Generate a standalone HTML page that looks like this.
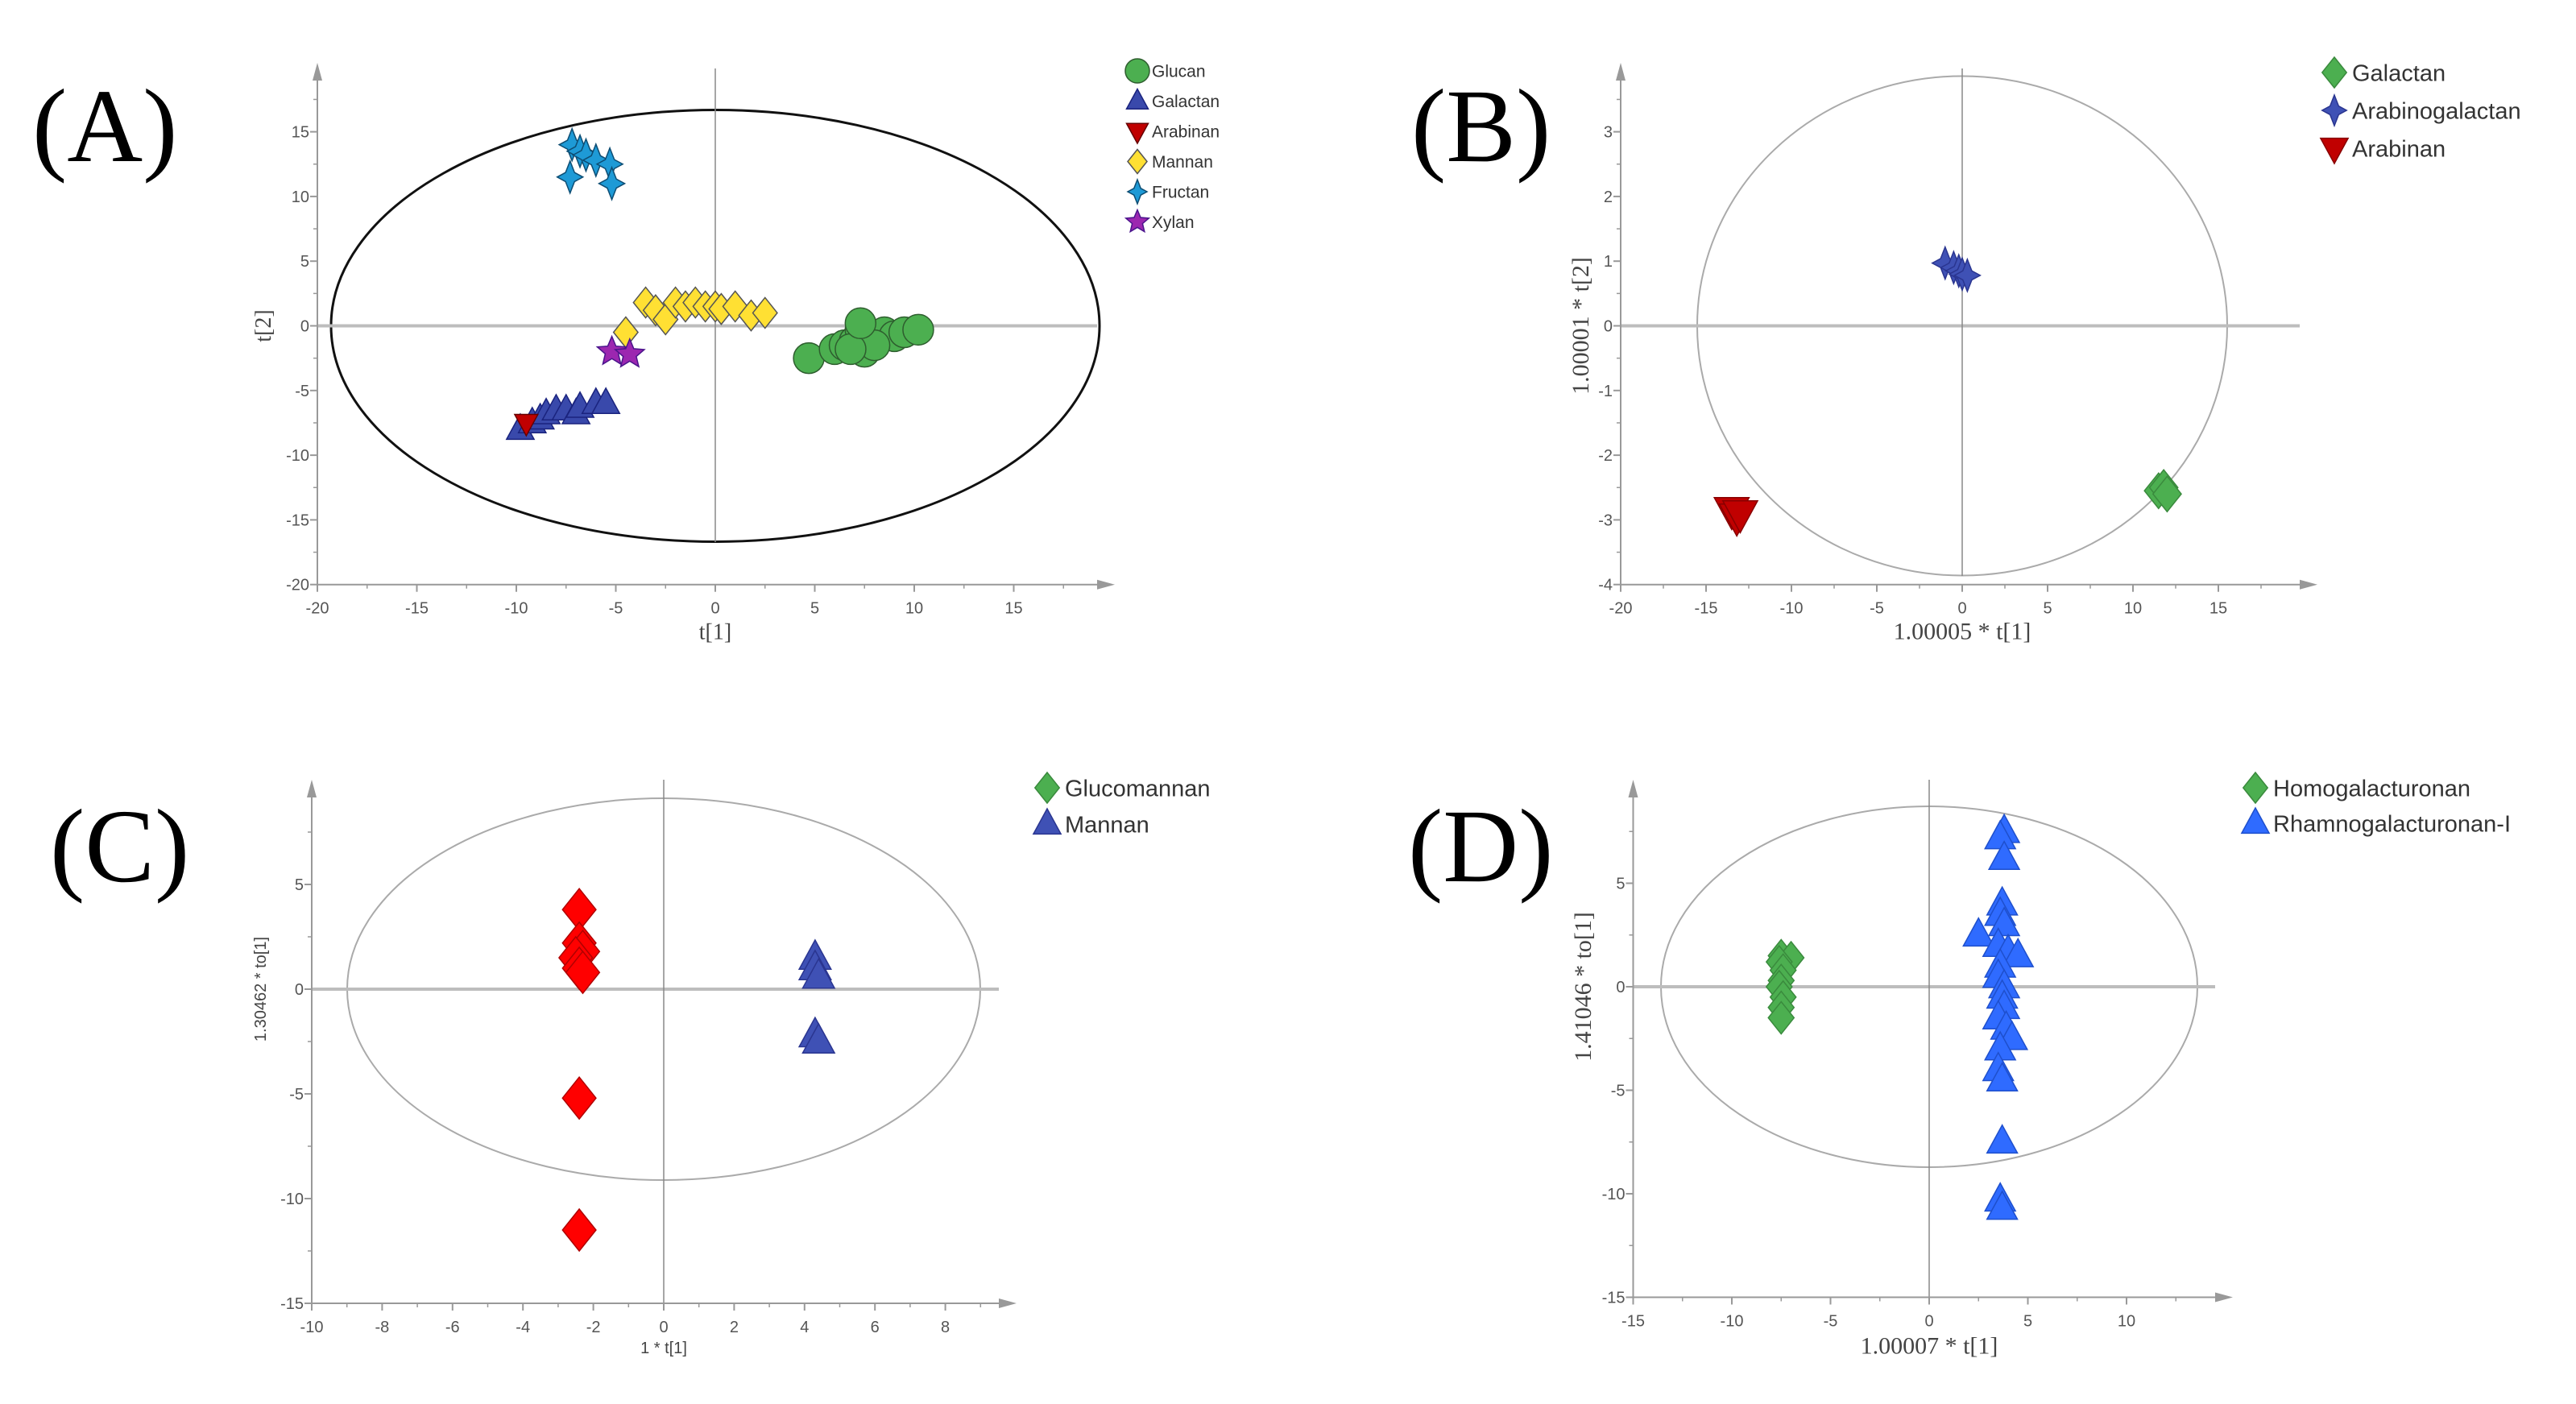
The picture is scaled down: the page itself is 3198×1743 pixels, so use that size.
<!DOCTYPE html>
<html><head><meta charset="utf-8">
<style>
html,body{margin:0;padding:0;background:#fff;}
svg{display:block;font-family:"Liberation Sans",sans-serif;}
</style></head>
<body>
<svg id="fig" width="3198" height="1743" viewBox="0 0 3198 1743" xmlns="http://www.w3.org/2000/svg"></svg>
<script>
// ===== Panel A data =====
const aGlucanX = [4.7,6,6.5,7,7.3,7.5,8,8.5,9,9.5,10.2,8,6.8,7.3];
const aGlucanY = [-2.5,-1.8,-1.5,-1.2,-0.3,-2,-0.8,-0.5,-0.8,-0.5,-0.3,-1.5,-1.8,0.2];
const aGalactanX = [-9.8,-9.2,-8.8,-8.5,-8,-7.5,-7,-6.8,-6,-5.5];
const aGalactanY = [-8,-7.5,-7.2,-6.8,-6.5,-6.5,-6.8,-6.3,-6,-6];
const aArabinanX = [-9.5];
const aArabinanY = [-7.5];
const aMannanX = [-4.5,-3.5,-3,-2.5,-2,-1.5,-1,-0.5,0,0.3,1,1.8,2.5];
const aMannanY = [-0.5,1.8,1.2,0.5,1.8,1.5,1.8,1.5,1.5,1.3,1.5,0.8,1];
const aFructanX = [-7.2,-6.8,-6.5,-6,-5.3,-7.3,-5.2];
const aFructanY = [14,13.5,13.2,12.8,12.5,11.5,11];
const aXylanX = [-5.2,-4.3];
const aXylanY = [-2,-2.2];
const aXTicks = [-20,-15,-10,-5,0,5,10,15];
const aYTicks = [-20,-15,-10,-5,0,5,10,15];
// ===== Panel B data =====
const bArabinogalactanX = [-1,-0.5,-0.2,0,0.3];
const bArabinogalactanY = [0.97,0.9,0.85,0.8,0.78];
const bGalactanX = [11.5,11.8,12];
const bGalactanY = [-2.55,-2.5,-2.6];
const bArabinanX = [-13.5,-13.2,-13];
const bArabinanY = [-2.85,-2.95,-2.9];
const bXTicks = [-20,-15,-10,-5,0,5,10,15];
const bYTicks = [-4,-3,-2,-1,0,1,2,3];
// ===== Panel C data =====
const cGlucomannanX = [-2.4,-2.4,-2.3,-2.5,-2.4,-2.3,-2.4,-2.4];
const cGlucomannanY = [3.8,2.2,1.8,1.5,1,0.8,-5.2,-11.5];
const cMannanX = [4.3,4.3,4.4,4.3,4.4];
const cMannanY = [1.5,1,0.6,-2.2,-2.5];
const cXTicks = [-10,-8,-6,-4,-2,0,2,4,6,8];
const cYTicks = [-15,-10,-5,0,5];
// ===== Panel D data =====
const dHGX = [-7.5,-7,-7.6,-7.4,-7.5,-7.6,-7.4,-7.5,-7.5];
const dHGY = [1.5,1.4,1.2,0.8,0.3,0,-0.5,-1,-1.5];
const dRGX = [3.8,3.6,3.8,3.7,3.6,3.8,2.5,3.5,4,4.5,3.6,3.5,3.8,3.7,3.8,3.5,3.9,4.2,3.6,3.5,3.7,3.7,3.6,3.7];
const dRGY = [7.5,7.2,6.2,4,3.5,3,2.5,2,1.7,1.5,1,0.5,0,-0.5,-1,-1.5,-2,-2.5,-3,-4,-4.5,-7.5,-10.3,-10.7];
const dXTicks = [-15,-10,-5,0,5,10];
const dYTicks = [-15,-10,-5,0,5];

const NS = "http://www.w3.org/2000/svg";
const svg = document.getElementById('fig');
function mk(tag, attrs, parent){
  const e = document.createElementNS(NS, tag);
  for (const k in attrs) e.setAttribute(k, attrs[k]);
  (parent||svg).appendChild(e);
  return e;
}
function markerShape(g, type, cx, cy, s, fill, stroke){
  let e;
  if (type==='circle') e = mk('circle',{cx:cx,cy:cy,r:s,fill:fill,stroke:stroke,'stroke-width':1.5},g);
  else if (type==='tri') e = mk('polygon',{points:`${cx},${cy-s} ${cx+s*0.9},${cy+s*0.65} ${cx-s*0.9},${cy+s*0.65}`,fill:fill,stroke:stroke,'stroke-width':1.5},g);
  else if (type==='tridown') e = mk('polygon',{points:`${cx},${cy+s} ${cx+s*0.9},${cy-s*0.65} ${cx-s*0.9},${cy-s*0.65}`,fill:fill,stroke:stroke,'stroke-width':1.5},g);
  else if (type==='diamond') e = mk('polygon',{points:`${cx},${cy-s} ${cx+s*0.8},${cy} ${cx},${cy+s} ${cx-s*0.8},${cy}`,fill:fill,stroke:stroke,'stroke-width':1.5},g);
  else if (type==='star4'){
    const w=s*0.28;
    e = mk('polygon',{points:`${cx},${cy-s} ${cx+w},${cy-w} ${cx+s*0.8},${cy} ${cx+w},${cy+w} ${cx},${cy+s} ${cx-w},${cy+w} ${cx-s*0.8},${cy} ${cx-w},${cy-w}`,fill:fill,stroke:stroke,'stroke-width':1.5},g);
  } else if (type==='star5'){
    let p=[];
    for(let i=0;i<10;i++){const r=i%2?s*0.45:s; const a=-Math.PI/2+i*Math.PI/5; p.push((cx+r*Math.cos(a)).toFixed(1)+','+(cy+r*Math.sin(a)).toFixed(1));}
    e = mk('polygon',{points:p.join(' '),fill:fill,stroke:stroke,'stroke-width':1.5},g);
  }
  return e;
}
function panel(cfg){
  const g = mk('g',{});
  
  
  const sx = v => cfg.x0 + v*cfg.kx;
  const sy = v => cfg.y0 - v*cfg.ky;
  const xl = sx(cfg.xmin), yb = sy(cfg.ymin);
  const el = mk('ellipse',{cx:sx(0),cy:sy(0),rx:cfg.rx,ry:cfg.ry,fill:'none',stroke:cfg.ellColor,'stroke-width':cfg.ellW},g);
  
  
  mk('line',{x1:xl,y1:sy(0),x2:cfg.xEnd,y2:sy(0),stroke:'#bdbdbd','stroke-width':4},g);
  mk('line',{x1:sx(0),y1:cfg.vTop,x2:sx(0),y2:cfg.vBot,stroke:'#888','stroke-width':1.5},g);
  const xa = mk('line',{x1:xl,y1:yb,x2:cfg.xEnd,y2:yb,stroke:'#999','stroke-width':2},g);
   
  mk('polygon',{points:`${cfg.xEnd+22},${yb} ${cfg.xEnd},${yb-6} ${cfg.xEnd},${yb+6}`,fill:'#999'},g);
  const ya = mk('line',{x1:xl,y1:yb,x2:xl,y2:cfg.yTop,stroke:'#999','stroke-width':2},g);
   
  mk('polygon',{points:`${xl},${cfg.yTop-22} ${xl-6},${cfg.yTop} ${xl+6},${cfg.yTop}`,fill:'#999'},g);
  const step = cfg.xTicks[1]-cfg.xTicks[0];
  cfg.xTicks.forEach(t=>{
    mk('line',{x1:sx(t),y1:yb,x2:sx(t),y2:yb+9,stroke:'#999','stroke-width':2},g);
    mk('line',{x1:sx(t+step/2),y1:yb,x2:sx(t+step/2),y2:yb+5,stroke:'#999','stroke-width':1.5},g);
    const tx = mk('text',{x:sx(t),y:yb+36,'text-anchor':'middle','font-size':cfg.tickFs,fill:'#555'},g);
    tx.textContent = t;
     
  });
  const ystep = cfg.yTicks[1]-cfg.yTicks[0];
  cfg.yTicks.forEach(t=>{
    mk('line',{x1:xl-9,y1:sy(t),x2:xl,y2:sy(t),stroke:'#999','stroke-width':2},g);
    mk('line',{x1:xl-5,y1:sy(t+ystep/2),x2:xl,y2:sy(t+ystep/2),stroke:'#999','stroke-width':1.5},g);
    const ty = mk('text',{x:xl-10,y:sy(t)+7,'text-anchor':'end','font-size':cfg.tickFs,fill:'#555'},g);
    ty.textContent = t;
     
  });
  const xt = mk('text',{x:sx(0),y:yb+cfg.xtOff,'text-anchor':'middle','font-size':cfg.titleFs,fill:'#444',style:'font-family:'+cfg.titleFont},g);
  xt.textContent = cfg.xTitle;
   
  const yty = sy(0);
  const yt = mk('text',{x:cfg.ytX,y:yty,'text-anchor':'middle','font-size':cfg.titleFs,fill:'#444',style:'font-family:'+cfg.titleFont,transform:`rotate(-90 ${cfg.ytX} ${yty})`},g);
  yt.textContent = cfg.yTitle;
   
  cfg.series.forEach(s=>{
    const sg = mk('g',{},g);
     
    s.xs.forEach((xv,i)=>{
      const m = markerShape(sg, s.type, sx(xv), sy(s.ys[i]), s.size, s.fill, s.stroke);
      
      
    });
  });
  cfg.series.forEach((s,i)=>{
    if(!s.legend) return;
    const ly = cfg.legY + i*cfg.legDy;
    const lg = mk('g',{},g);
     
    markerShape(lg, s.legType||s.type, cfg.legX, ly, cfg.legS, s.legFill||s.fill, s.legStroke||s.stroke);
    const lt = mk('text',{x:cfg.legX+cfg.legS+3,y:ly+cfg.legFs*0.36,'font-size':cfg.legFs,fill:'#333'},lg);
    lt.textContent = s.legend;
  });
  const pl = mk('text',{x:cfg.lblX,y:cfg.lblY,'font-size':130,style:'font-family:"Liberation Serif",serif',fill:'#000'},g);
  pl.textContent = cfg.label;
   
}

const SERIF = '"Liberation Serif",serif';
const SANS = '"Liberation Sans",sans-serif';

panel({name:'panel-a',label:'(A)',lblX:40,lblY:200,x0:888,y0:404.5,kx:24.7,ky:16.06,xmin:-20,ymin:-20,
  xEnd:1362,yTop:100,vTop:85,vBot:673,rx:477,ry:268,ellColor:'#111',ellW:3,
  xTicks:aXTicks,yTicks:aYTicks,tickFs:20,titleFs:28,titleFont:SERIF,
  xTitle:'t[1]',yTitle:'t[2]',xtOff:68,ytX:336,
  legX:1412,legY:88,legDy:37.5,legS:15,legFs:21,
  series:[
    {id:'glucan',legend:'Glucan',type:'circle',size:19,fill:'#4caf50',stroke:'#2e5d2e',xs:aGlucanX,ys:aGlucanY},
    {id:'galactan',legend:'Galactan',type:'tri',size:19,fill:'#3949ab',stroke:'#1a237e',xs:aGalactanX,ys:aGalactanY},
    {id:'arabinan',legend:'Arabinan',type:'tridown',size:16,fill:'#c00000',stroke:'#600',xs:aArabinanX,ys:aArabinanY},
    {id:'mannan',legend:'Mannan',type:'diamond',size:19,fill:'#ffe033',stroke:'#555',xs:aMannanX,ys:aMannanY},
    {id:'fructan',legend:'Fructan',type:'star4',size:20,fill:'#1e9ad6',stroke:'#0d4d73',xs:aFructanX,ys:aFructanY},
    {id:'xylan',legend:'Xylan',type:'star5',size:19,fill:'#9c27b0',stroke:'#4a148c',xs:aXylanX,ys:aXylanY}
  ]});

panel({name:'panel-b',label:'(B)',lblX:1752,lblY:200,x0:2436,y0:404.5,kx:21.2,ky:80.3,xmin:-20,ymin:-4,
  xEnd:2855,yTop:100,vTop:85,vBot:715,rx:329,ry:310,ellColor:'#aaa',ellW:2,
  xTicks:bXTicks,yTicks:bYTicks,tickFs:20,titleFs:30,titleFont:SERIF,
  xTitle:'1.00005 * t[1]',yTitle:'1.00001 * t[2]',xtOff:68,ytX:1972,
  legX:2898,legY:90,legDy:47,legS:19,legFs:29,
  series:[
    {id:'galactan',legend:'Galactan',type:'diamond',size:22,fill:'#4caf50',stroke:'#3a8a3d',xs:bGalactanX,ys:bGalactanY},
    {id:'arabinogalactan',legend:'Arabinogalactan',type:'star4',size:20,fill:'#3f51b5',stroke:'#2a3590',xs:bArabinogalactanX,ys:bArabinogalactanY},
    {id:'arabinan',legend:'Arabinan',type:'tridown',size:24,fill:'#c00000',stroke:'#800',xs:bArabinanX,ys:bArabinanY}
  ]});

panel({name:'panel-c',label:'(C)',lblX:62,lblY:1094,x0:824,y0:1228,kx:43.7,ky:26,xmin:-10,ymin:-15,
  xEnd:1240,yTop:990,vTop:968,vBot:1618,rx:393,ry:237,ellColor:'#aaa',ellW:2,
  xTicks:cXTicks,yTicks:cYTicks,tickFs:20,titleFs:20,titleFont:SANS,
  xTitle:'1 * t[1]',yTitle:'1.30462 * to[1]',xtOff:62,ytX:330,
  legX:1300,legY:978,legDy:45,legS:19,legFs:29,
  series:[
    {id:'glucomannan',legend:'Glucomannan',type:'diamond',size:26,fill:'#ff0000',stroke:'#b00000',legFill:'#4caf50',legStroke:'#3a8a3d',xs:cGlucomannanX,ys:cGlucomannanY},
    {id:'mannan',legend:'Mannan',type:'tri',size:22,fill:'#3f51b5',stroke:'#2a3590',xs:cMannanX,ys:cMannanY}
  ]});

panel({name:'panel-d',label:'(D)',lblX:1748,lblY:1094,x0:2395,y0:1225,kx:24.5,ky:25.7,xmin:-15,ymin:-15,
  xEnd:2750,yTop:990,vTop:968,vBot:1612,rx:333,ry:224,ellColor:'#aaa',ellW:2,
  xTicks:dXTicks,yTicks:dYTicks,tickFs:20,titleFs:30,titleFont:SERIF,
  xTitle:'1.00007 * t[1]',yTitle:'1.41046 * to[1]',xtOff:70,ytX:1975,
  legX:2800,legY:978,legDy:44,legS:19,legFs:29,
  series:[
    {id:'homogalacturonan',legend:'Homogalacturonan',type:'diamond',size:20,fill:'#4caf50',stroke:'#3a8a3d',xs:dHGX,ys:dHGY},
    {id:'rhamnogalacturonan',legend:'Rhamnogalacturonan-I',type:'tri',size:21,fill:'#2f6bff',stroke:'#1e4fcc',xs:dRGX,ys:dRGY}
  ]});
</script>
</body></html>
